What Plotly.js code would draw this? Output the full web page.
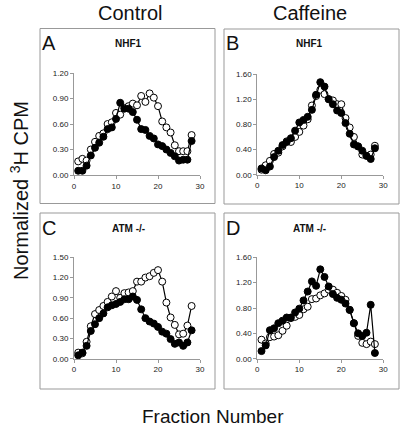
<!DOCTYPE html>
<html><head><meta charset="utf-8">
<script src="https://cdn.plot.ly/plotly-3.0.1.min.js"></script>
<style>html,body{margin:0;padding:0;background:#fff}#chart{width:410px;height:431px}</style>
</head><body><div id="chart"></div>
<script>
const fractions = [1,2,3,4,5,6,7,8,9,10,11,12,13,14,15,16,17,18,19,20,21,22,23,24,25,26,27,28];
// Panel A: Control, NHF1
const A_filled = [0.05,0.05,0.11,0.23,0.32,0.38,0.45,0.54,0.56,0.66,0.85,0.78,0.78,0.74,0.65,0.54,0.53,0.46,0.43,0.36,0.34,0.30,0.26,0.22,0.17,0.18,0.18,0.40];
const A_open   = [0.16,0.19,0.17,0.30,0.39,0.46,0.49,0.60,0.62,0.73,0.71,0.79,0.81,0.84,0.82,0.93,0.86,0.96,0.91,0.81,0.63,0.56,0.50,0.35,0.28,0.28,0.28,0.47];
// Panel B: Caffeine, NHF1
const B_filled = [0.10,0.07,0.13,0.28,0.38,0.47,0.52,0.58,0.70,0.83,0.87,0.92,1.03,1.27,1.47,1.40,1.20,1.12,1.02,0.98,0.82,0.65,0.48,0.45,0.38,0.30,0.25,0.42];
const B_open   = [0.08,0.15,0.22,0.33,0.35,0.45,0.53,0.52,0.60,0.68,0.78,0.88,1.10,1.25,1.35,1.28,1.20,1.18,1.12,1.12,0.90,0.75,0.60,0.45,0.32,0.30,0.32,0.46];
// Panel C: Control, ATM -/-
const C_filled = [0.05,0.09,0.19,0.41,0.51,0.60,0.67,0.76,0.79,0.81,0.84,0.88,0.88,0.92,0.87,0.73,0.60,0.55,0.52,0.47,0.40,0.37,0.29,0.22,0.24,0.19,0.24,0.42];
const C_open   = [0.09,0.08,0.25,0.48,0.66,0.72,0.78,0.84,0.92,1.00,0.90,0.97,0.98,1.00,1.14,1.14,1.20,1.22,1.27,1.31,1.14,0.83,0.61,0.50,0.36,0.37,0.49,0.78];
// Panel D: Caffeine, ATM -/-
const D_filled = [0.12,0.21,0.45,0.48,0.56,0.60,0.65,0.65,0.73,0.79,0.92,1.06,1.22,1.15,1.41,1.29,1.14,1.02,0.96,0.93,0.87,0.77,0.56,0.40,0.36,0.41,0.85,0.09];
const D_open   = [0.30,0.24,0.34,0.35,0.37,0.44,0.52,0.64,0.66,0.69,0.78,0.82,0.94,0.95,1.00,1.03,1.09,1.09,1.04,0.99,0.93,0.77,0.56,0.36,0.25,0.23,0.27,0.23];

const panels = [
  {xa:'x',  ya:'y',  f:A_filled, o:A_open},
  {xa:'x2', ya:'y2', f:B_filled, o:B_open},
  {xa:'x3', ya:'y3', f:C_filled, o:C_open},
  {xa:'x4', ya:'y4', f:D_filled, o:D_open}
];
const traces = [];
panels.forEach(p => {
  traces.push({x:fractions, y:p.o, xaxis:p.xa, yaxis:p.ya, mode:'lines+markers', type:'scatter',
    line:{color:'#000', width:1.2}, marker:{symbol:'circle', size:7, color:'#fff', line:{color:'#000', width:1}}, cliponaxis:false, showlegend:false});
  traces.push({x:fractions, y:p.f, xaxis:p.xa, yaxis:p.ya, mode:'lines+markers', type:'scatter',
    line:{color:'#000', width:1.2}, marker:{symbol:'circle', size:7, color:'#000', line:{color:'#000', width:1}}, cliponaxis:false, showlegend:false});
});

const W=410, H=431;
const px = v => v/W, py = v => 1 - v/H;
const tickFont = {family:'Arial, Liberation Sans, sans-serif', size:8, color:'#222'};
function xax(l, r, anchor){
  return {domain:[px(l), px(r)], range:[0,30], tickvals:[0,10,20,30], showline:true, linecolor:'#999', linewidth:1,
    ticks:'outside', ticklen:3, tickcolor:'#999', showgrid:false, zeroline:false, tickfont:tickFont, anchor:anchor, fixedrange:true};
}
function yax(b, t, max, dt, anchor){
  const vals=[]; for(let v=0; v<=max+1e-9; v+=dt) vals.push(+v.toFixed(2));
  return {domain:[py(b), py(t)], range:[0,max], tickvals:vals, tickformat:'.2f', showline:true, linecolor:'#999', linewidth:1,
    ticks:'outside', ticklen:3, tickcolor:'#999', showgrid:false, zeroline:false, tickfont:tickFont, anchor:anchor, fixedrange:true};
}
const boxes = [[40,28.5,215,203.5],[224,29,399,204],[40,213,215,389],[224,213,399,389]];
const shapes = boxes.map(b => ({type:'rect', xref:'paper', yref:'paper', x0:px(b[0]), x1:px(b[2]), y0:py(b[3]), y1:py(b[1]), line:{color:'#999', width:1}}));
const txt = {family:'Arial, Liberation Sans, sans-serif', color:'#111'};
function ann(text, x, y, size, extra){
  return Object.assign({text:text, xref:'paper', yref:'paper', x:px(x), y:py(y), showarrow:false, xanchor:'center', yanchor:'middle',
    font:Object.assign({}, txt, {size:size})}, extra||{});
}
const annotations = [
  ann('Control', 130, 13, 20), ann('Caffeine', 310, 13, 20),
  ann('A', 49, 43, 20), ann('B', 233, 43, 20), ann('C', 49, 228, 20), ann('D', 233, 228, 20),
  ann('<b>NHF1</b>', 128, 44, 10), ann('<b>NHF1</b>', 309, 44, 10),
  ann('<b>ATM -/-</b>', 128, 228, 10), ann('<b>ATM -/-</b>', 309, 228, 10),
  ann('Fraction Number', 213, 416, 19),
  ann('Normalized <sup>3</sup>H CPM', 19, 191, 20, {textangle:-90})
];
const layout = {
  width:W, height:H, margin:{l:0,r:0,t:0,b:0}, paper_bgcolor:'#fff', plot_bgcolor:'rgba(0,0,0,0)', showlegend:false,
  xaxis: xax(74,200,'y'),   yaxis: yax(175,73,1.2,0.3,'x'),
  xaxis2: xax(257.3,383.3,'y2'), yaxis2: yax(174.7,74,1.6,0.4,'x2'),
  xaxis3: xax(74,200,'y3'), yaxis3: yax(358.7,257.3,1.5,0.3,'x3'),
  xaxis4: xax(257.3,383.3,'y4'), yaxis4: yax(358.7,257.3,1.6,0.4,'x4'),
  shapes: shapes, annotations: annotations
};
Plotly.newPlot('chart', traces, layout, {displayModeBar:false, staticPlot:true});
</script></body></html>
